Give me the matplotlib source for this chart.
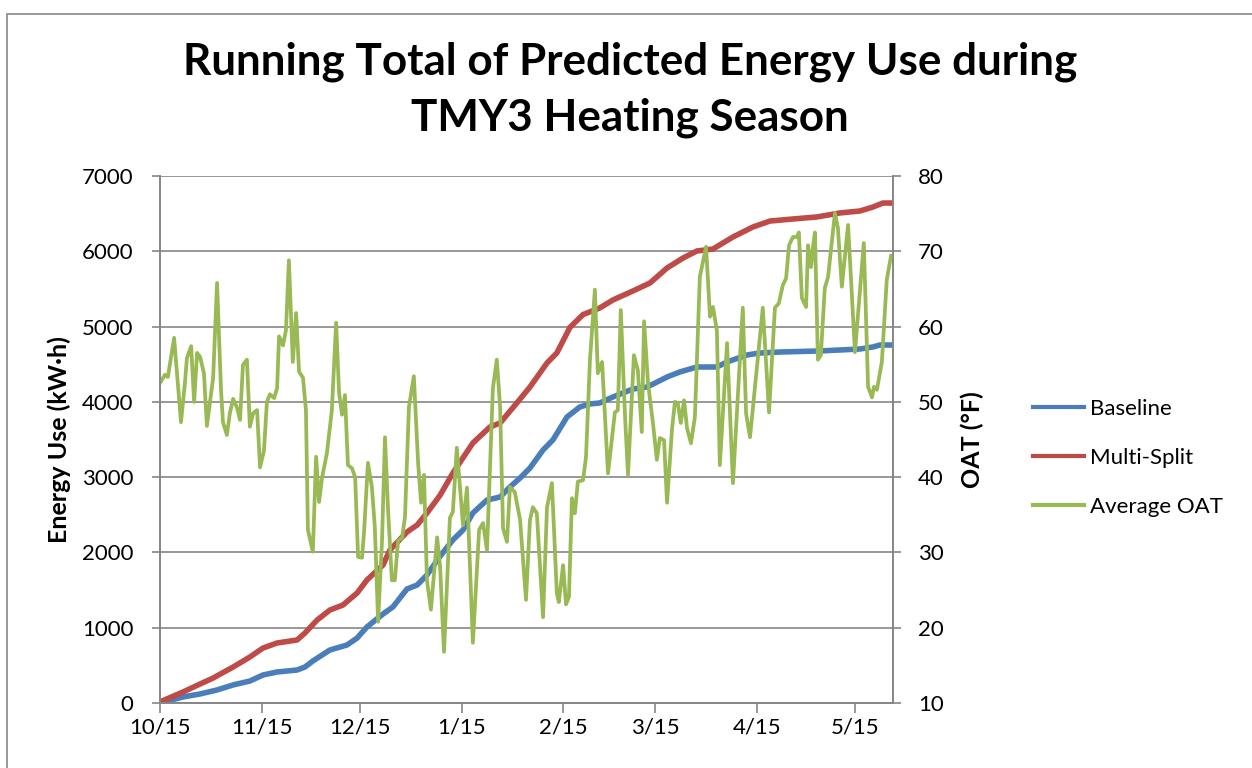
import matplotlib.pyplot as plt
from matplotlib.lines import Line2D
from matplotlib.patches import Rectangle

plt.rcParams['font.family'] = ['Lato', 'DejaVu Sans']

# days after 10/15
base_day = [0, 7.0, 12.2, 17.4, 22.3, 27.4, 31.4, 35.7, 41.8, 44.2, 46.6, 51.8, 57.0, 60.1,
            63.1, 68.0, 71.0, 75.3, 78.4, 81.4, 85.4, 89.3, 92.4, 95.4, 99.7, 103.7, 106.7,
            109.8, 112.8, 116.8, 119.8, 124.1, 128.0, 131.1, 134.1, 138.1, 144.2, 148.5,
            154.6, 158.5, 163.7, 169.8, 172.9, 179.0, 182.9, 189.0, 201.2, 213.4, 217.4,
            219.5, 223.2]
baseline = [0, 80, 120, 173, 240, 292, 372, 412, 438, 478, 558, 704, 770, 863,
            1010, 1182, 1275, 1514, 1567, 1700, 1950, 2165, 2298, 2524, 2696, 2736, 2869,
            2989, 3121, 3361, 3494, 3799, 3932, 3972, 3985, 4065, 4171, 4197,
            4330, 4397, 4463, 4463, 4530, 4623, 4649, 4662, 4676, 4702, 4729,
            4755, 4755]

multi_day = [0, 7.0, 12.2, 16.2, 22.3, 27.4, 31.4, 35.7, 41.8, 44.2, 47.9, 51.8, 55.8, 60.1,
             63.1, 68.0, 70.1, 75.3, 78.4, 81.4, 85.4, 89.3, 95.4, 100.6, 103.7, 108.8,
             112.8, 118.0, 121.0, 125.0, 129.0, 134.1, 138.1, 144.2, 149.4, 154.6, 159.5,
             163.7, 168.6, 174.7, 180.8, 186.0, 193.0, 200.3, 207.3, 213.4, 217.4, 220.4,
             223.2]
multi_split = [15, 146, 252, 332, 478, 611, 730, 797, 837, 930, 1102, 1235, 1302, 1461,
               1634, 1833, 2032, 2271, 2364, 2524, 2760, 3055, 3454, 3666, 3719, 3985,
               4197, 4516, 4649, 4990, 5160, 5247, 5353, 5473, 5579, 5778, 5911,
               6004, 6030, 6190, 6323, 6402, 6429, 6456, 6509, 6535, 6588, 6641,
               6641]

oat_day = [0.0, 1.5, 2.4, 4.3, 6.4, 7.6, 8.2, 9.5, 10.4, 11.3, 12.2, 13.4, 14.3, 16.2, 17.4,
           18.6, 19.2, 20.4, 21.3, 22.3, 23.5, 24.4, 25.3, 26.5, 27.4, 28.4, 29.6, 30.5,
           31.7, 32.6, 33.5, 34.8, 35.7, 36.3, 37.5, 38.4, 39.3, 40.5, 41.5, 42.4, 43.6,
           44.5, 45.1, 46.6, 47.6, 48.5, 49.4, 50.9, 52.4, 53.7, 54.6, 55.5, 56.4, 57.3,
           58.5, 59.5, 60.4, 61.6, 62.2, 63.4, 64.6, 65.5, 66.5, 67.7, 68.6, 69.5, 70.7,
           71.6, 72.6, 73.8, 74.7, 75.9, 77.4, 78.7, 79.6, 80.5, 81.4, 82.6, 84.5, 85.4,
           86.6, 88.4, 89.3, 90.5, 92.4, 93.6, 95.4, 97.3, 98.5, 99.7, 101.5, 102.7, 103.7,
           104.6, 105.8, 106.7, 108.2, 109.8, 111.6, 112.8, 113.7, 114.9, 116.8, 118.0,
           119.5, 121.0, 121.6, 122.9, 123.8, 124.7, 125.6, 126.5, 127.4, 129.0, 129.9,
           131.1, 132.6, 133.5, 134.8, 135.7, 136.6, 138.7, 139.6, 140.5, 141.8, 142.7,
           144.5, 145.7, 146.9, 147.6, 148.8, 150.3, 151.5, 152.4, 153.7, 154.6, 156.1,
           157.0, 157.9, 158.8, 159.8, 160.7, 161.9, 163.1, 164.6, 166.5, 167.7, 168.6,
           169.8, 170.7, 172.9, 174.7, 177.7, 178.7, 179.9, 183.8, 185.7, 187.5, 188.7,
           189.9, 190.9, 191.8, 193.0, 194.2, 194.8, 195.7, 197.0, 197.6, 198.5, 199.1,
           199.7, 200.6, 201.5, 202.7, 203.7, 205.8, 206.7, 207.9, 209.8, 211.9, 214.6,
           215.9, 217.1, 217.7, 218.6, 220.1, 221.6, 222.9]
oat = [52.5, 53.6, 53.3, 58.5, 47.3, 52.5, 55.8, 57.4, 50.0, 56.5, 56.0, 53.8, 46.8, 53.2, 65.8,
       51.6, 47.3, 45.6, 48.5, 50.4, 49.2, 47.6, 54.9, 55.6, 46.7, 48.5, 48.9, 41.3,
       43.5, 50.0, 51.0, 50.5, 51.8, 58.7, 57.5, 59.5, 68.8, 55.3, 61.8, 54.0, 53.2,
       48.9, 33.0, 30.1, 42.7, 36.7, 39.9, 43.2, 48.9, 60.5, 51.2, 48.3, 50.9, 41.6,
       41.2, 40.0, 29.4, 29.3, 32.6, 41.9, 38.7, 33.4, 20.8, 31.6, 45.3, 36.0, 26.3,
       26.3, 31.6, 31.9, 34.7, 49.3, 53.4, 41.9, 36.6, 40.3, 26.3, 22.4, 32.0, 28.1,
       16.8, 34.6, 35.4, 43.9, 33.6, 38.6, 18.0, 33.0, 33.9, 30.3, 51.8, 55.6, 49.3,
       33.2, 31.4, 38.7, 38.0, 34.3, 23.7, 34.3, 36.0, 35.2, 21.4, 36.0,
       39.2, 24.6, 23.4, 28.3, 23.1, 24.1, 37.2, 35.2, 39.4, 39.6, 42.7,
       55.6, 64.9, 53.8, 55.3, 48.0, 40.5, 48.6, 48.9, 62.2, 48.0, 40.3,
       56.2, 54.2, 46.0, 60.7, 52.5, 47.2, 42.3, 45.2, 44.9, 36.6, 46.3,
       50.0, 49.8, 47.2, 50.2, 46.5, 44.5, 48.0, 66.6, 70.6, 61.3, 62.6,
       59.5, 41.6, 57.8, 39.2, 62.5, 48.5, 45.3, 62.5, 48.6, 62.5, 63.1,
       65.5, 66.4, 70.8, 71.9, 71.9, 72.5, 63.8, 62.6, 70.8, 67.9, 70.6,
       72.5, 55.6, 56.2, 65.1, 66.6, 75.1, 73.1, 65.3, 73.5, 56.6, 71.1,
       52.0, 50.6, 52.0, 51.6, 55.3, 66.2, 69.4]

tick_days = [0, 31, 61, 92, 123, 151, 182, 212]
tick_labels = ['10/15', '11/15', '12/15', '1/15', '2/15', '3/15', '4/15', '5/15']

blue = '#4A7EBB'
red = '#BE4B48'
green = '#98B954'
gray = '#868686'

fig = plt.figure(figsize=(12.52, 7.68), dpi=100)
fig.patches.append(Rectangle((7 / 1252, -0.1), 1.1, 754 / 768 + 0.1,
                             transform=fig.transFigure, fill=False,
                             edgecolor=gray, linewidth=1.2))

ax = fig.add_axes([160 / 1252, 65 / 768, 733 / 1252, 527 / 768])
ax2 = ax.twinx()

ax.plot(base_day, baseline, color=blue, linewidth=4, solid_capstyle='round', label='Baseline')
ax.plot(multi_day, multi_split, color=red, linewidth=4, solid_capstyle='round', label='Multi-Split')
ax2.plot(oat_day, oat, color=green, linewidth=2.7, solid_joinstyle='round', label='Average OAT')

ax.set_xlim(0, 223.5)
ax.set_ylim(0, 7000)
ax2.set_ylim(10, 80)
ax.set_yticks(range(0, 7001, 1000))
ax2.set_yticks(range(10, 81, 10))
ax.set_xticks(tick_days)
ax.set_xticklabels(tick_labels)

ax.grid(axis='y', color=gray, linewidth=1.2)
ax.set_axisbelow(True)
for a in (ax, ax2):
    a.spines['top'].set_visible(False)
    for side in ('left', 'right', 'bottom'):
        a.spines[side].set_color(gray)
        a.spines[side].set_linewidth(1.2)
    a.tick_params(colors=gray, labelcolor='black', labelsize=16, length=6, width=1.2)
ax.tick_params(axis='x', pad=3.5, length=7)
ax.tick_params(axis='y', pad=13)
ax2.tick_params(axis='y', pad=12)

ax.set_ylabel('Energy Use (kW·h)', fontsize=18, fontweight='bold', labelpad=8)
ax2.set_ylabel('OAT (°F)', fontsize=18, fontweight='bold', labelpad=12)

fig.suptitle('Running Total of Predicted Energy Use during\nTMY3 Heating Season',
             x=630 / 1252, y=1 - 42 / 768, fontsize=31.7, fontweight='bold',
             linespacing=1.45)

handles = [Line2D([], [], color=blue, linewidth=3),
           Line2D([], [], color=red, linewidth=3),
           Line2D([], [], color=green, linewidth=3)]
fig.legend(handles, ['Baseline', 'Multi-Split', 'Average OAT'],
           loc='center left', bbox_to_anchor=(1013 / 1252, 1 - 458 / 768),
           frameon=False, fontsize=16, handlelength=2.3, handletextpad=0.25,
           labelspacing=1.3)

fig.savefig('out.png', dpi=100)
